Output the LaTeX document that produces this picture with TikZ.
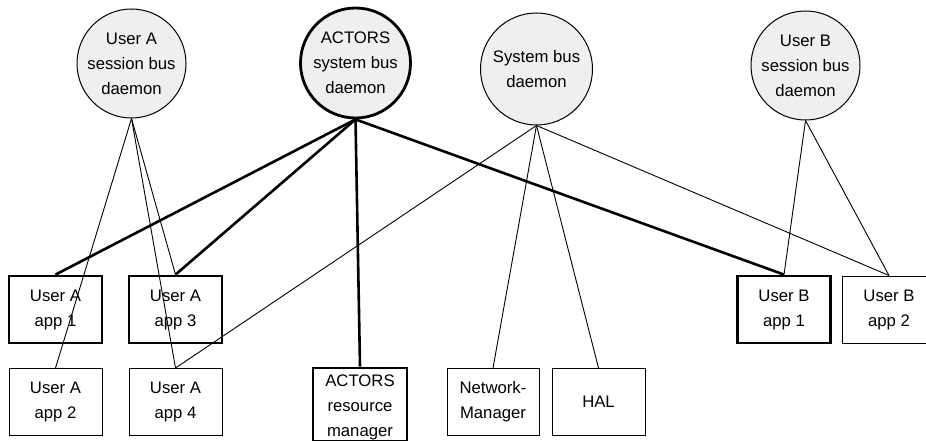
\documentclass[tikz,border=0pt]{standalone}
\usepackage{fontspec}
\setmainfont{Liberation Sans}
\definecolor{busfill}{HTML}{EFEFEF}
\begin{document}
\begin{tikzpicture}[x=1pt,y=-1pt,
  every node/.style={font=\fontsize{16.7}{25}\selectfont, align=center},
  bus/.style={circle, draw=black, fill=busfill, line width=1pt, inner sep=0pt},
  mainbus/.style={bus, line width=2.8pt},
  app/.style={rectangle, draw=black, line width=1pt, inner sep=0pt,
              minimum width=93pt, minimum height=67pt},
  mainapp/.style={app, line width=2.8pt},
  link/.style={line width=0.9pt},
  mainlink/.style={line width=2.6pt}]
\useasboundingbox (0,0) rectangle (926,441);

% bus daemons
\node[bus, minimum size=109pt] (sessA) at (131.5,63.5) {User A\\session bus\\daemon};
\node[mainbus, minimum size=110pt] (actors) at (355.5,63) {ACTORS\\system bus\\daemon};
\node[bus, minimum size=112pt] (sysbus) at (536.5,69) {System bus\\daemon};
\node[bus, minimum size=109pt] (sessB) at (805.5,65.5) {User B\\session bus\\daemon};

% applications, first row
\node[mainapp] (a1) at (55.5,309.5) {User A\\app 1};
\node[mainapp] (a3) at (175.5,309.5) {User A\\app 3};
\node[mainapp] (b1) at (784,309.5) {User B\\app 1};
\node[app] (b2) at (889,309.5) {User B\\app 2};

% applications and services, second row
\node[app] (a2) at (55.5,402) {User A\\app 2};
\node[app] (a4) at (175.5,402) {User A\\app 4};
\node[mainapp, minimum width=94pt, minimum height=73pt] (arm) at (360,404.5) {};
\node (armtext) at (360,407) {ACTORS\\resource\\manager};
\node[app, minimum width=92pt] (nm) at (493,402) {Network-\\Manager};
\node[app] (hal) at (598.5,402) {HAL};

% User A session bus
\draw[link] (sessA.south) -- (a2.north);
\draw[link] (sessA.south) -- (a3.north);
\draw[link] (sessA.south) -- (a4.north);

% System bus
\draw[link] (sysbus.south) -- (a4.north);
\draw[link] (sysbus.south) -- (nm.north);
\draw[link] (sysbus.south) -- (hal.north);
\draw[link] (sysbus.south) -- (b2.north);

% User B session bus
\draw[link] (sessB.south) -- (b1.north);
\draw[link] (sessB.south) -- (b2.north);

% ACTORS system bus
\draw[mainlink] (actors.south) -- (a1.north);
\draw[mainlink] (actors.south) -- (a3.north);
\draw[mainlink] (actors.south) -- (arm.north);
\draw[mainlink] (actors.south) -- (b1.north);
\end{tikzpicture}
\end{document}
